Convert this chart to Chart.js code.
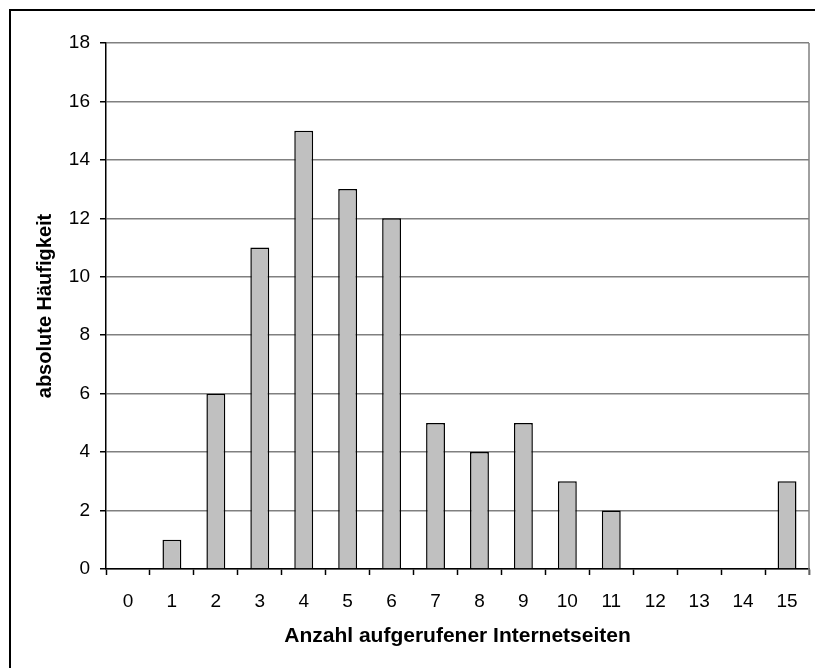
<!DOCTYPE html>
<html>
<head>
<meta charset="utf-8">
<script src="https://cdn.jsdelivr.net/npm/chart.js@4.4.0/dist/chart.umd.min.js"></script>
<style>
  html, body { margin: 0; padding: 0; background: #fff; overflow: hidden; }
  #wrap { position: relative; width: 815px; height: 668px; }
  #frame { position: absolute; left: 9px; top: 9px; width: 900px; height: 800px; border: 2px solid #000; pointer-events: none; }
</style>
</head>
<body>
<div id="wrap">
  <canvas id="chart" width="815" height="668"></canvas>
  <div id="frame"></div>
</div>
<script>
var seiten = ["0", "1", "2", "3", "4", "5", "6", "7", "8", "9", "10", "11", "12", "13", "14", "15"];
var haeufigkeit = [0, 1, 6, 11, 15, 13, 12, 5, 4, 5, 3, 2, 0, 0, 0, 3];
var yTicks = [0, 2, 4, 6, 8, 10, 12, 14, 16, 18];

var fontName = "'Liberation Sans', Arial, sans-serif";

// gray frame line on the right of the plot area
var rightLine = {
  id: "rightLine",
  afterDraw: function (chart) {
    var a = chart.chartArea;
    var ctx = chart.ctx;
    ctx.save();
    ctx.strokeStyle = "#808080";
    ctx.lineWidth = 1.5;
    ctx.beginPath();
    ctx.moveTo(a.right, a.top);
    ctx.lineTo(a.right, a.bottom + 6);
    ctx.stroke();
    ctx.restore();
  }
};

var ctx = document.getElementById("chart").getContext("2d");
var myChart = new Chart(ctx, {
  type: "bar",
  data: {
    labels: seiten,
    datasets: [
      {
        label: "absolute Häufigkeit",
        data: haeufigkeit,
        backgroundColor: "#c0c0c0",
        borderColor: "#000000",
        borderWidth: 1.5,
        barPercentage: 0.43,
        categoryPercentage: 1.0,
      },
    ],
  },
  options: {
    responsive: false,
    animation: false,
    layout: { padding: { left: 0, top: 43, right: 6, bottom: 0 } },
    plugins: {
      legend: { display: false },
      tooltip: { enabled: false },
    },
    scales: {
      x: {
        grid: {
          drawOnChartArea: false,
          tickLength: 6,
          tickColor: "#000",
          tickWidth: 1.5,
        },
        border: { color: "#000", width: 1.5 },
        ticks: {
          color: "#000",
          font: { family: fontName, size: 19 },
          padding: 15,
          maxRotation: 0,
        },
        title: {
          display: true,
          text: "Anzahl aufgerufener Internetseiten",
          color: "#000",
          font: { family: fontName, size: 21, weight: "bold" },
          padding: { top: 0, bottom: 19 },
        },
        afterFit: function (scale) { scale.height = 99; },
      },
      y: {
        min: 0,
        max: 18,
        afterBuildTicks: function (scale) {
          scale.ticks = yTicks.map(function (v) { return { value: v }; });
        },
        grid: {
          color: "#808080",
          lineWidth: 1.5,
          tickLength: 6,
          tickColor: "#000",
          tickWidth: 1.5,
        },
        border: { color: "#000", width: 1.5 },
        ticks: {
          color: "#000",
          font: { family: fontName, size: 19 },
          padding: 10,
        },
        title: {
          display: true,
          text: "absolute Häufigkeit",
          color: "#000",
          font: { family: fontName, size: 20, weight: "bold" },
          padding: { top: 33, bottom: 0 },
        },
        afterFit: function (scale) { scale.width = 106; },
      },
    },
  },
  plugins: [rightLine],
});
</script>
</body>
</html>
